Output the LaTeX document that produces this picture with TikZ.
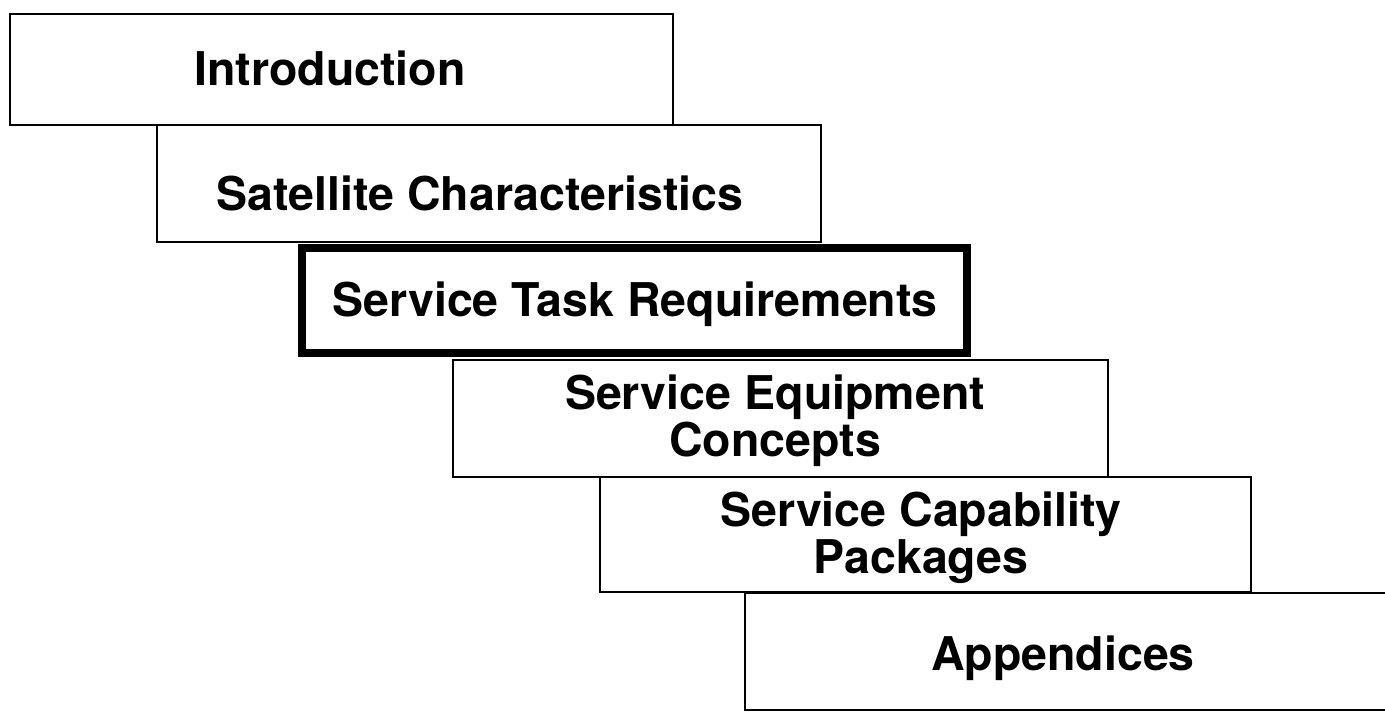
\documentclass[tikz,border=0pt]{standalone}
\usepackage{fontspec}
\setmainfont{TeX Gyre Heros}
\begin{document}
\begin{tikzpicture}[x=1pt,y=-1pt,
  chapter/.style={draw=black, line width=2.6pt, fill=white, inner sep=0pt, outer sep=0pt},
  current/.style={chapter, line width=8.5pt},
  title/.style={font=\fontsize{46.5}{47}\selectfont\bfseries, inner sep=0pt, align=center, anchor=base}]
  \useasboundingbox (0,0) rectangle (1385,713);
  \begin{scope}
    \clip (0,0) rectangle (1385,713);
    % staircase of chapter boxes
    \path[chapter] (10,14)   rectangle (673,125)  coordinate (c1);
    \path[chapter] (157,125) rectangle (821,242)  coordinate (c2);
    \path[current] (302,248) rectangle (967,353)  coordinate (c3);
    \path[chapter] (453,360) rectangle (1108,477) coordinate (c4);
    \path[chapter] (600,477) rectangle (1251,592) coordinate (c5);
    \path[chapter] (745,593) rectangle (1420,710) coordinate (c6);
  \end{scope}
  % chapter titles (two-line titles are placed by their last baseline)
  \node[title] (t1) at (330,85)  {Introduction};
  \node[title] (t2) at (480,210) {Satellite Characteristics};
  \node[title] (t3) at (635,316) {Service Task Requirements};
  \node[title] (t4) at (775,456) {Service Equipment\\Concepts};
  \node[title] (t5) at (921,573) {Service Capability\\Packages};
  \node[title] (t6) at (1063,670) {Appendices};
\end{tikzpicture}
\end{document}
